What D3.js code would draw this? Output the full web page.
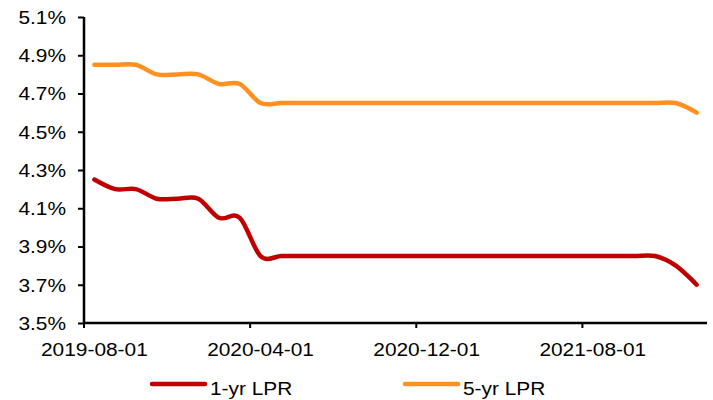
<!DOCTYPE html>
<html>
<head>
<meta charset="utf-8">
<script src="https://cdn.jsdelivr.net/npm/d3@7"></script>
<style>
  body { margin: 0; background: #fff; }
  text { font-family: "Liberation Sans", Arial, sans-serif; fill: #000; }
</style>
</head>
<body>
<svg id="chart" width="713" height="400"></svg>
<script>
"use strict";

// months, one LPR fixing each
var months = [
  "2019-08-01", "2019-09-01", "2019-10-01", "2019-11-01", "2019-12-01",
  "2020-01-01", "2020-02-01", "2020-03-01", "2020-04-01", "2020-05-01",
  "2020-06-01", "2020-07-01", "2020-08-01", "2020-09-01", "2020-10-01",
  "2020-11-01", "2020-12-01", "2021-01-01", "2021-02-01", "2021-03-01",
  "2021-04-01", "2021-05-01", "2021-06-01", "2021-07-01", "2021-08-01",
  "2021-09-01", "2021-10-01", "2021-11-01", "2021-12-01", "2022-01-01"
];
var lpr1y = [4.25, 4.20, 4.20, 4.15, 4.15, 4.15, 4.05, 4.05, 3.85, 3.85,
             3.85, 3.85, 3.85, 3.85, 3.85, 3.85, 3.85, 3.85, 3.85, 3.85,
             3.85, 3.85, 3.85, 3.85, 3.85, 3.85, 3.85, 3.85, 3.80, 3.70];
var lpr5y = [4.85, 4.85, 4.85, 4.80, 4.80, 4.80, 4.75, 4.75, 4.65, 4.65,
             4.65, 4.65, 4.65, 4.65, 4.65, 4.65, 4.65, 4.65, 4.65, 4.65,
             4.65, 4.65, 4.65, 4.65, 4.65, 4.65, 4.65, 4.65, 4.65, 4.60];
var yTicks = [3.5, 3.7, 3.9, 4.1, 4.3, 4.5, 4.7, 4.9, 5.1];
var xLabels = ["2019-08-01", "2020-04-01", "2020-12-01", "2021-08-01"];
var seriesNames = ["1-yr LPR", "5-yr LPR"];
var seriesColors = ["#c00000", "#ff9021"];

var stretch = 1.16; // the text in the picture is a bit wide
var plotLeft = 84, plotRight = 707, plotTop = 17, plotBottom = 323;

var svg = d3.select("#chart");

var x = d3.scaleBand().domain(months).range([plotLeft, plotRight]);
var y = d3.scaleLinear().domain([3.5, 5.1]).range([plotBottom, plotTop]);
var half = x.bandwidth() / 2;

// lines
var line = d3.line()
    .x(function(d, i) { return x(months[i]) + half; })
    .y(function(d) { return y(d); })
    .curve(d3.curveCardinal.tension(0));

[lpr1y, lpr5y].forEach(function(vals, k) {
  svg.append("path")
      .datum(vals)
      .attr("d", line)
      .attr("fill", "none")
      .attr("stroke", seriesColors[k])
      .attr("stroke-width", 4.5)
      .attr("stroke-linecap", "round")
      .attr("stroke-linejoin", "round");
});

// y axis
var yAxis = svg.append("g")
    .attr("transform", "translate(" + plotLeft + ",0)")
    .call(d3.axisLeft(y).tickValues(yTicks).tickSize(6).tickPadding(0)
      .tickFormat(function(d) { return d3.format(".1f")(d) + "%"; }));
yAxis.select(".domain").attr("stroke-width", 2.5).attr("d", "M0," + plotTop + "V" + plotBottom);
yAxis.selectAll(".tick line").attr("stroke-width", 2);
yAxis.selectAll("text")
    .attr("x", 0).attr("dy", "0.36em")
    .attr("font-size", 18)
    .attr("transform", "translate(-18,0) scale(" + stretch + ",1)");

// x axis: ticks between months, labels on the month
var xAxis = svg.append("g")
    .attr("transform", "translate(0," + plotBottom + ")");
xAxis.append("line")
    .attr("x1", plotLeft).attr("x2", plotRight)
    .attr("stroke", "#000").attr("stroke-width", 2.5);
var xt = xAxis.selectAll(".xtick")
    .data(xLabels)
    .enter()
    .append("g")
    .attr("class", "xtick");
xt.append("line")
    .attr("x1", function(d) { return x(d); })
    .attr("x2", function(d) { return x(d); })
    .attr("y1", 0).attr("y2", 5)
    .attr("stroke", "#000").attr("stroke-width", 2);
xt.append("text")
    .attr("transform", function(d) {
      return "translate(" + (x(d) + half) + ",33) scale(" + stretch + ",1)";
    })
    .attr("text-anchor", "middle")
    .attr("font-size", 18)
    .text(function(d) { return d; });

// legend
var legendX = [152, 405];
var lg = svg.append("g")
    .selectAll("g")
    .data(seriesNames)
    .enter()
    .append("g")
    .attr("transform", function(d, i) { return "translate(" + legendX[i] + ",384)"; });
lg.append("line")
    .attr("x1", 0).attr("x2", 53)
    .attr("stroke", function(d, i) { return seriesColors[i]; })
    .attr("stroke-width", 4.5)
    .attr("stroke-linecap", "round");
lg.append("text")
    .attr("transform", "translate(58,11) scale(" + stretch + ",1)")
    .attr("font-size", 18)
    .text(function(d) { return d; });
</script>
</body>
</html>
